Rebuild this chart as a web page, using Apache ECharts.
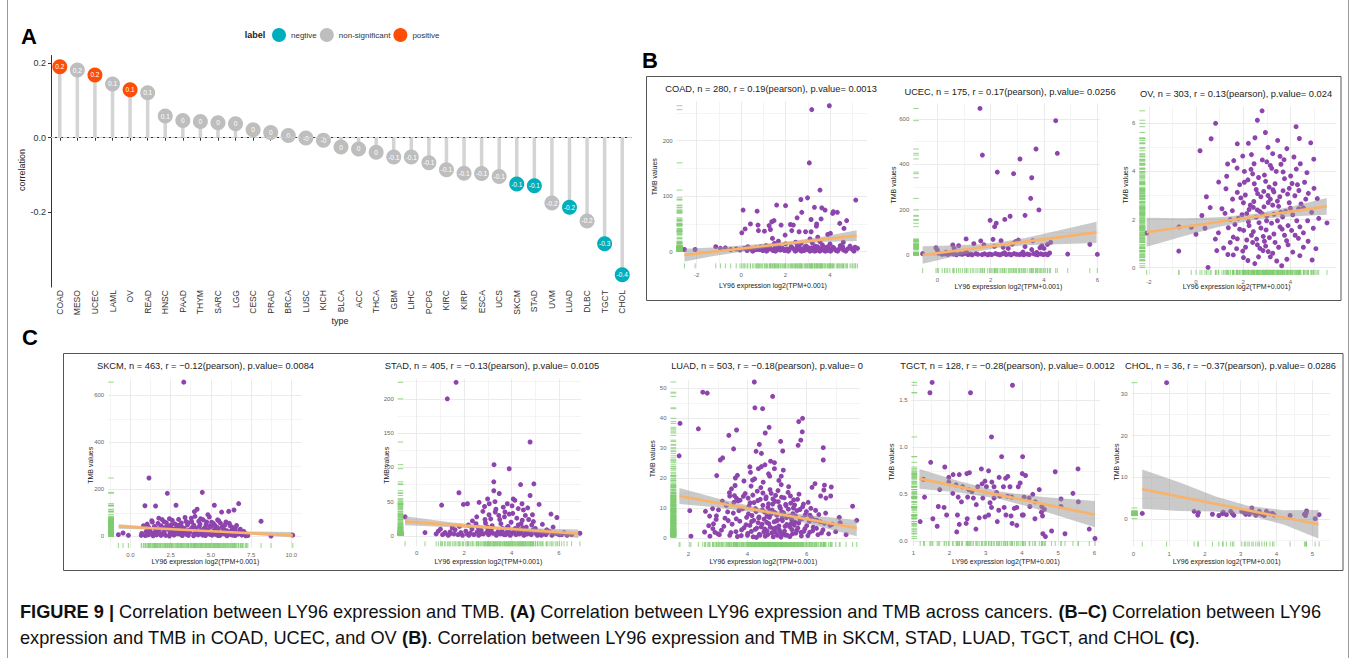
<!DOCTYPE html>
<html><head><meta charset="utf-8">
<script src="https://cdn.jsdelivr.net/npm/echarts@6/dist/echarts.min.js"></script>
<style>html,body{margin:0;padding:0;background:#fff}#c{width:1356px;height:658px}</style>
</head><body><div id="c"></div>
<script>
// ---------- Panel A data ----------
const aTypes = ['COAD','MESO','UCEC','LAML','OV','READ','HNSC','PAAD','THYM','SARC','LGG','CESC','PRAD','BRCA','LUSC','KICH','BLCA','ACC','THCA','GBM','LIHC','PCPG','KIRC','KIRP','ESCA','UCS','SKCM','STAD','UVM','LUAD','DLBC','TGCT','CHOL'];
const aCorr = [0.19,0.181,0.168,0.144,0.128,0.12,0.058,0.046,0.043,0.04,0.037,0.021,0.014,0.006,-0.001,-0.007,-0.025,-0.03,-0.039,-0.052,-0.052,-0.067,-0.086,-0.095,-0.096,-0.104,-0.124,-0.129,-0.175,-0.186,-0.223,-0.284,-0.367];
const aLabel = ['0.2','0.2','0.2','0.1','0.1','0.1','0.1','0','0','0','0','0','0','0','-0','-0','0','0','0','-0.1','-0.1','-0.1','-0.1','-0.1','-0.1','-0.1','-0.1','-0.1','-0.2','-0.2','-0.2','-0.3','-0.4'];
const aGroup = ['positive','non-significant','positive','non-significant','positive','non-significant','non-significant','non-significant','non-significant','non-significant','non-significant','non-significant','non-significant','non-significant','non-significant','non-significant','non-significant','non-significant','non-significant','non-significant','non-significant','non-significant','non-significant','non-significant','non-significant','non-significant','negtive','negtive','non-significant','negtive','non-significant','negtive','negtive'];
const legendNames = ['negtive','non-significant','positive'];
const aYTicks = [-0.2, 0, 0.2];

// ---------- Scatter panel data ----------
const coadPts = [[3.18,256],[3.97,263],[3.07,160],[3.55,111],[2.99,97],[2.69,94],[3.3,80],[3.63,79],[3.78,75],[4.15,72],[0.09,75],[0.72,73],[1.6,84],[2.0,83],[2.73,71],[4.12,69],[4.33,71],[1.48,56],[1.38,54],[0.42,50],[0.18,41],[0.03,34],[0.76,48],[0.78,38],[1.05,37],[1.26,47],[1.32,40],[1.8,48],[2.22,49],[2.28,38],[2.52,61],[2.61,36],[2.9,36],[3.15,36],[3.15,58],[3.39,46],[3.6,59],[3.4,50],[4.02,33],[4.44,51],[4.75,56],[4.63,42],[5.16,93],[1.41,24],[1.68,19],[3.1,23],[1.98,30],[2.35,48],[3.45,26],[3.9,31],
[-2.55,4],[-2.07,4],[-1.14,9],[-0.93,6],[-0.71,7],[-0.47,4],[-0.22,5],[-0.05,3],[0.14,6],[0.27,2],[0.41,5],[0.58,3],[0.66,7],[0.83,4],[0.97,2],[1.08,6],[1.19,3],[1.33,5],[1.44,2],[1.52,7],[1.63,4],[1.77,3],[1.86,6],[1.95,2],[2.07,5],[2.16,3],[2.31,7],[2.4,4],[2.48,2],[2.57,6],[2.66,3],[2.78,5],[2.84,2],[2.97,4],[3.05,7],[3.22,3],[3.28,5],[3.37,2],[3.49,6],[3.58,4],[3.69,3],[3.74,8],[3.86,2],[3.95,5],[4.07,3],[4.19,6],[4.28,2],[4.39,4],[4.52,7],[4.61,3],[4.79,5],[4.9,10],[5.02,4],[5.13,8],[5.24,6],[1.12,11],[2.53,10],[3.66,12],[0.88,9],[4.46,11],[1.71,8],[2.88,9],[3.33,10],
[0.3,9],[0.52,1],[0.7,4],[0.93,8],[1.14,1],[1.28,9],[1.55,1],[1.66,10],[1.9,5],[2.12,1],[2.25,9],[2.44,1],[2.62,8],[2.72,1],[2.93,10],[3.1,1],[3.18,7],[3.31,1],[3.44,9],[3.54,1],[3.63,6],[3.79,1],[3.91,9],[4.02,1],[4.13,8],[4.34,1],[4.57,9],[4.71,1],[4.95,6],[5.08,1],[2.0,14],[2.7,15],[3.2,16],[4.0,14],[1.5,15],[3.55,18],[4.6,17],[2.45,17]];
const coadLine = [[-2.55,-6],[5.2,29]];
const coadBand = [[-2.55,-17.5,5.5],[-1.3,-8.4,7.6],[0,-0.3,11.3],[1,5.8,14.2],[2.3,12.7,19.1],[3.6,17.3,26.3],[5.2,19.5,38.5]];

const ucecPts = [[1.6,647],[4.44,593],[1.69,441],[4.5,449],[3.7,468],[3.1,424],[2.25,366],[2.86,359],[3.54,341],[3.5,250],[3.81,199],[3.29,175],[2.73,171],[2.53,157],[1.98,153],[2.21,140],[2.15,125],[1.08,71],[1.37,50],[1.63,62],[2.09,69],[2.39,63],[3.04,66],[2.93,59],[3.58,63],[4.25,56],[4.13,47],[0.58,44],[0.8,41],[0.63,29],[-0.05,32],[0,22],[-0.55,6],[4.89,4],[5.72,47],[6.0,3],[2.14,38],[2.47,34],[2.66,29],[3.29,37],[3.54,24],[3.85,32],[4.0,29],[1.75,45],[2.81,48],[3.92,41],
[0.05,8],[0.18,3],[0.27,5],[0.39,2],[0.47,6],[0.61,4],[0.72,1],[0.86,5],[0.94,3],[1.03,7],[1.15,2],[1.24,4],[1.31,1],[1.45,6],[1.52,3],[1.68,2],[1.77,5],[1.89,1],[1.96,4],[2.04,2],[2.18,6],[2.27,3],[2.35,1],[2.44,5],[2.58,2],[2.69,4],[2.77,1],[2.88,6],[2.97,3],[3.08,2],[3.16,5],[3.24,1],[3.37,4],[3.45,2],[3.61,6],[3.68,3],[3.76,1],[3.88,5],[3.97,2],[4.06,4],[4.14,1],[4.21,9],[0.33,12],[1.1,11],[2.52,10],[3.21,13],[3.73,11]];
const ucecLine = [[-0.55,0],[5.97,100]];
const ucecBand = [[-0.55,-39,39],[0.5,-10,42],[1.5,16,46],[2.3,32,56],[3.3,43,75],[4.5,47.5,107.5],[5.97,53,147]];

const ovPts = [[2.8,6.52],[2.6,6.13],[0.83,6.0],[4.24,5.86],[0.64,5.36],[2.94,5.62],[4.38,5.37],[2.22,5.17],[3.46,5.29],[1.75,5.15],[4.86,5.19],[0.17,4.86],[3.25,4.74],[1.98,4.64],[3.56,4.63],[4.99,4.51],[2.46,4.32],[1.34,4.31],[4.42,4.32],[2.81,4.48],[3.0,4.4],[3.73,4.49],[1.74,4.14],[2.33,4.09],[3.21,4.13],[3.69,3.98],[4.01,3.81],[0.96,3.56],[2.95,3.59],[2.47,3.49],[3.35,3.49],[4.07,3.5],[1.27,3.28],[1.75,3.13],[2.09,3.02],[3.26,3.24],[3.69,3.2],[4.36,3.21],[4.76,3.09],[0.44,2.95],[2.61,3.08],[2.87,3.17],[3.88,3.06],[4.19,2.99],[2.01,2.7],[3.06,2.71],[3.45,2.77],[5.14,2.87],[1.54,2.37],[2.25,2.42],[2.43,2.51],[2.88,2.53],[2.71,2.33],[4.0,2.47],[4.55,2.49],[1.23,2.26],[3.3,2.22],[3.67,2.11],[0.25,2.17],[1.79,2.05],[2.22,1.91],[2.67,1.87],[2.99,1.95],[4.27,1.95],[4.73,1.95],[5.55,1.86],[-0.72,1.7],[-0.2,1.68],[0.38,1.64],[0.0,1.39],[1.37,1.66],[2.02,1.55],[2.43,1.5],[2.97,1.57],[3.56,1.7],[4.05,1.55],[4.97,1.64],[0.82,1.19],[1.58,1.27],[2.15,1.15],[2.57,1.19],[3.11,1.25],[3.84,1.12],[4.34,1.22],[1.17,0.82],[0.88,0.71],[1.72,0.79],[1.98,0.69],[2.71,0.8],[3.06,0.67],[4.55,0.85],[5.08,0.79],[-0.73,0.69],[1.58,0.53],[2.01,0.42],[2.49,0.17],[3.42,0.28],[3.63,0.08],[4.92,0.32],[0.51,0.01],[-2.09,1.44],[2.84,0.71],
[1.9,2.9],[2.3,2.6],[2.75,2.95],[3.15,2.85],[3.5,2.55],[3.8,2.35],[4.1,2.2],[2.15,2.25],[2.55,2.1],[3.2,1.85],[3.65,1.6],[4.4,1.7],[1.65,1.8],[2.35,1.35],[2.85,1.3],[3.35,1.05],[3.9,0.95],[4.2,1.35],[1.45,1.05],[2.6,0.95],[3.15,0.45],[2.2,0.3],[1.85,3.45],[2.65,3.75],[3.1,3.35],[3.95,3.3],[4.6,3.55],[2.4,3.9],[3.4,4.0],[4.25,4.1],
[1.6,4.45],[2.05,4.0],[2.5,5.4],[3.05,5.0],[3.6,4.3],[4.15,4.6],[4.7,3.95],[1.3,3.8],[2.2,3.65],[2.9,3.85],[3.3,3.15],[3.75,3.7],[4.3,3.45],[5.0,3.3],[1.55,2.85],[2.45,2.75],[2.8,2.25],[3.25,2.6],[3.55,2.95],[3.95,2.7],[4.45,2.65],[4.9,2.3],[1.1,2.45],[1.95,2.2],[2.6,2.4],[3.0,2.15],[3.45,1.95],[3.9,1.75],[4.35,2.45],[5.2,2.05],[0.6,2.5],[1.85,1.6],[2.25,1.75],[2.75,1.65],[3.3,1.4],[3.75,1.35],[4.55,1.45],[0.95,1.45],[1.75,1.2],[2.4,1.05],[2.95,0.9],[3.5,0.85],[4.1,0.65],[4.75,1.1],[1.35,0.55],[2.1,0.85],[2.65,0.45],[3.25,0.6],[3.85,0.35],[4.4,0.5],[2.55,3.25],[3.15,4.25],[2.05,3.55],[3.85,4.95],[1.45,2.0],[2.9,1.1],[3.6,2.3],[4.65,2.85],[2.35,4.7],[3.05,3.0]];
const ovLine = [[-2.09,1.47],[5.54,2.55]];
const ovBand = [[-2.09,0.87,2.08],[-0.5,1.32,2.06],[1,1.7,2.1],[2.6,2.01,2.25],[4,2.13,2.53],[5.54,2.2,2.9]];

const skcmPts = [[3.32,656],[1.16,248],[2.3,183],[4.47,187],[0.91,130],[1.57,129],[2.84,132],[5.22,132],[6.73,139],[4.15,115],[3.98,105],[4.82,92],[5.67,103],[6.11,106],[6.44,112],[8.12,64],[8.74,1],[10.09,5],[-0.74,7],[-0.45,14],[-0.12,4],[0.68,4],[1.37,61],[1.77,77],[2.1,62],[2.43,75],[2.95,47],[3.46,63],[3.79,77],[4.37,75],[4.74,61],[5.16,55],[5.49,66],[5.94,61],[6.21,44],[6.52,32],[1.14,39],[1.66,32],[2.59,32],[3.21,39],[3.94,47],[4.66,39],[5.28,32],[5.82,28],[6.94,14],[7.19,10],
[0.71,12],[0.93,3],[0.98,20],[1.17,8],[1.21,28],[1.42,2],[1.46,15],[1.63,6],[1.68,24],[1.87,11],[1.91,4],[2.09,18],[2.13,9],[2.31,30],[2.43,1],[2.47,14],[2.66,22],[2.71,5],[2.9,17],[2.94,10],[3.12,26],[3.23,3],[3.28,13],[3.47,21],[3.52,7],[3.69,16],[3.74,29],[3.93,2],[3.97,11],[4.16,19],[4.21,6],[4.38,25],[4.44,9],[4.62,15],[4.67,3],[4.85,22],[4.89,12],[5.08,5],[5.13,18],[5.31,8],[5.36,27],[5.54,14],[5.58,4],[5.77,20],[5.82,10],[6.01,2],[6.05,16],[6.24,7],[6.27,23],[6.46,12],[6.51,3],[6.69,9],[6.73,18],[6.93,5],[6.98,11],[7.17,2],[7.23,7],[3.04,45],[4.33,52],[5.71,41],[2.19,38],[1.56,33],[6.39,28],[2.55,49],[4.05,36],[4.95,44],[3.6,58],[5.4,38],[1.9,45],
[0.82,45],[1.05,52],[1.25,18],[1.33,66],[1.5,42],[1.72,55],[1.81,29],[1.98,71],[2.02,36],[2.24,58],[2.37,44],[2.52,26],[2.61,68],[2.77,53],[2.84,35],[3.0,72],[3.08,21],[3.17,57],[3.35,34],[3.4,80],[3.55,48],[3.62,25],[3.81,62],[3.86,38],[4.02,85],[4.08,29],[4.25,64],[4.29,42],[4.41,20],[4.53,70],[4.57,33],[4.71,50],[4.79,27],[4.91,82],[4.99,40],[5.05,60],[5.19,24],[5.25,47],[5.42,70],[5.47,31],[5.6,56],[5.75,36],[5.88,48],[6.0,24],[6.15,55],[6.33,38],[6.48,20],[6.6,46],[6.83,30],[7.05,21],[1.1,6],[1.52,9],[2.2,4],[2.56,12],[3.15,7],[3.61,4],[4.1,13],[4.5,5],[4.95,8],[5.45,3],[5.9,9],[6.35,5],[6.85,14],[7.3,3]];
const skcmLine = [[-0.72,42],[10.09,4]];
const skcmBand = [[-0.72,32,51],[2,27.5,37.5],[4.2,21.2,28.2],[7,8.8,20.8],[10.09,-4,18]];

const stadPts = [[1.66,224],[1.29,200],[4.78,137],[3.26,104],[3.9,98],[4.38,75],[4.94,76],[3.25,79],[1.78,63],[3.25,66],[3.48,62],[4.78,59],[1.05,45],[1.97,46],[2.14,47],[5.16,46],[2.63,49],[2.99,54],[3.06,47],[3.82,47],[4.07,54],[4.14,52],[4.44,47],[3.34,39],[3.65,42],[4.28,40],[4.68,41],[2.79,36],[2.53,28],[3.05,31],[3.46,30],[3.9,32],[4.58,30],[5.66,32],[5.91,27],[-0.49,28],[0.35,5],[1.2,5],[2.18,16],[2.35,22],[3.98,20],[4.28,16],[4.45,23],[4.85,16],[5.48,9],[6.11,2],[6.88,4],[6.53,2],[3.12,25],[3.72,35],[4.02,44],[2.9,19],[3.55,18],[4.92,21],[3.3,50],[2.86,43],
[0.82,3],[0.91,7],[1.09,2],[1.18,4],[1.33,1],[1.41,6],[1.57,3],[1.62,9],[1.74,2],[1.86,5],[1.93,1],[2.07,7],[2.12,3],[2.26,4],[2.33,10],[2.41,2],[2.55,6],[2.61,1],[2.72,8],[2.81,3],[2.95,5],[3.03,2],[3.14,9],[3.21,4],[3.36,1],[3.42,6],[3.53,3],[3.61,11],[3.69,2],[3.78,5],[3.87,8],[3.94,1],[4.03,4],[4.11,7],[4.19,2],[4.26,10],[4.34,3],[4.41,5],[4.52,1],[4.59,8],[4.66,3],[4.74,6],[4.83,2],[4.91,9],[5.02,4],[5.09,1],[5.21,6],[5.33,3],[5.45,2],[5.58,7],[5.7,1],[5.84,4],[6.02,2],[6.21,5],[6.34,1],[1.5,12],[2.98,13],[3.85,14],[4.47,12],
[1.0,10],[1.4,3],[1.8,14],[2.2,1],[2.5,18],[2.7,3],[2.88,24],[3.0,8],[3.18,15],[3.31,35],[3.4,4],[3.5,24],[3.6,7],[3.7,28],[3.8,12],[3.96,4],[4.05,33],[4.15,11],[4.22,26],[4.32,6],[4.4,18],[4.5,38],[4.62,13],[4.72,24],[4.8,5],[4.88,31],[5.0,11],[5.1,3],[5.3,17],[5.5,5],[5.75,13],[5.95,3],[2.6,12],[3.1,5],[3.75,2],[4.55,2],[5.25,1]];
const stadLine = [[-0.49,21],[6.81,3.4]];
const stadBand = [[-0.49,15.5,28.7],[1.5,12.7,19.7],[3.5,9.2,13.6],[5.2,3.8,10.8],[6.81,-2.8,9.6]];

const luadPts = [[4.23,52],[2.49,48.6],[2.64,48.3],[4.85,47.2],[4.25,43.4],[4.51,43.1],[5.73,38.8],[5.86,39.9],[1.72,38.2],[5.85,35.4],[2.34,36.4],[3.63,36],[4.73,36.9],[4.6,35],[3.37,34.2],[5.8,32.6],[5.12,32.2],[4.4,31.2],[6.56,30.1],[3.53,29.7],[4.29,28.9],[4.47,28.2],[5.19,29],[5.71,30.9],[1.69,27.4],[3.16,26.7],[3.08,26],[6.56,26],[4.78,25.6],[4.59,24.4],[4.08,23.7],[4.91,23.1],[4.37,23.1],[2.96,20.8],[3.66,20.9],[3.59,20],[4.17,19.3],[4.75,20.6],[5.14,20.6],[6.28,18.1],[6.18,16.9],[6.6,17.6],[6.83,17],[6.58,16],[6.47,14],[6.65,13.3],[6.81,14],[3.39,15.1],[3.4,14],[3.54,11.9],[3.63,13.2],[3.75,12.6],[3.3,11.1],[2.82,9.8],[2.05,9.1],[2.58,8.9],[2.72,7.3],[2.94,6.2],[2.69,4.1],[2.83,3.1],[2.55,2],[3.0,1.4],[2.09,0.6],[2.73,0.6],[7.55,10.6],[7.69,5.9],[7.13,5.1],[6.79,4.2],[7.33,1.1],[6.34,5.9],[6.11,7.6],
[3.52,8.3],[3.61,2.1],[3.68,12.4],[3.74,5.6],[3.79,0.8],[3.83,9.7],[3.88,3.4],[3.92,14.8],[3.97,6.9],[4.01,1.5],[4.05,10.6],[4.08,4.2],[4.12,17.3],[4.15,7.5],[4.19,0.4],[4.22,11.8],[4.26,2.9],[4.29,8.8],[4.33,15.6],[4.36,5.1],[4.4,1.2],[4.43,12.9],[4.46,3.7],[4.5,9.4],[4.53,18.6],[4.56,6.3],[4.6,0.6],[4.63,13.7],[4.66,2.4],[4.69,10.2],[4.72,4.8],[4.76,16.1],[4.79,7.9],[4.82,1.7],[4.85,11.3],[4.88,3.1],[4.92,8.5],[4.95,14.2],[4.98,5.7],[5.01,0.9],[5.04,12.1],[5.08,2.6],[5.11,9.9],[5.14,17.8],[5.17,6.6],[5.2,1.3],[5.24,13.4],[5.27,3.9],[5.3,10.8],[5.33,4.5],[5.37,15.2],[5.4,7.2],[5.43,0.5],[5.46,11.6],[5.5,2.8],[5.53,8.1],[5.56,12.7],[5.6,5.3],[5.63,1.6],[5.67,9.1],[5.7,3.3],[5.74,14.6],[5.78,6.1],[5.82,0.7],[5.86,10.4],[5.9,2.2],[5.95,7.7],[6.0,4.1],[6.05,11.9],[6.1,1.9],[6.16,6.8],[6.22,3.6],[6.3,9.2],[6.38,1.1],[6.46,5.4],[6.55,2.7],[6.64,8.3],[6.74,1.4],[6.86,4.6],[6.98,2.1],[7.1,6.9],[3.2,3.9],[3.05,1.1],[2.95,7.4],[3.28,10.9],[3.4,0.9],[3.35,5.8],[3.15,12.3],[2.85,4.7],[3.46,16.4],[4.24,19.7],[4.71,21.4],[5.06,19.2],[4.47,23.8],[5.21,22.6],[4.91,25.1],[4.1,21.9],[5.39,17.1],[4.58,3.0],[4.94,1.9],[5.13,0.3],[4.38,6.7],[5.48,4.9],[4.76,9.0],[5.02,6.0],[4.3,0.2],[5.28,1.0],[4.66,7.3],[5.59,11.0],[4.14,5.5],[4.86,13.0],[5.16,8.7],[4.52,15.0],[3.58,17.5],[3.88,19.0],[4.02,13.3],
[3.62,6.4],[3.71,9.1],[3.8,2.7],[3.86,13.9],[3.95,4.4],[4.03,8.0],[4.09,11.7],[4.13,2.2],[4.18,14.3],[4.21,5.9],[4.27,9.8],[4.31,3.3],[4.35,12.5],[4.39,7.0],[4.42,0.9],[4.45,16.8],[4.49,4.6],[4.52,10.9],[4.55,2.0],[4.58,8.6],[4.62,13.1],[4.65,5.2],[4.68,1.1],[4.71,11.4],[4.74,6.9],[4.77,3.6],[4.8,14.9],[4.83,9.3],[4.87,0.4],[4.9,5.4],[4.93,12.2],[4.96,3.4],[4.99,7.6],[5.03,15.8],[5.06,4.0],[5.09,10.5],[5.12,1.8],[5.15,13.6],[5.18,5.8],[5.22,8.4],[5.25,2.3],[5.29,11.2],[5.32,6.8],[5.35,0.9],[5.38,9.6],[5.42,3.8],[5.45,14.0],[5.49,6.2],[5.52,1.4],[5.55,10.0],[5.58,4.3],[5.62,7.4],[5.66,2.5],[5.69,12.9],[5.73,5.0],[5.77,9.5],[5.81,1.9],[5.85,6.5],[5.89,11.3],[5.94,3.1],[5.99,8.8],[6.04,0.8],[6.09,5.6],[6.14,9.9],[6.2,2.4],[6.26,6.0],[6.33,3.2],[6.41,7.8],[6.5,1.7],[6.6,4.9],[3.48,4.6],[3.33,8.7],[3.56,14.1],[3.24,6.6],[3.12,2.6],[2.9,1.9],[3.02,9.4],[3.44,1.8],[3.66,0.5],[4.0,0.9]];
const luadLine = [[1.7,14],[7.69,3.3]];
const luadBand = [[1.7,11.3,16.7],[3,10.2,13.2],[4.6,8.0,9.6],[6,4.9,7.7],[7.69,0.6,6.0]];

const tgctPts = [[1.52,1.69],[1.46,1.58],[2.58,1.58],[3.74,1.66],[3.16,1.11],[1.48,0.84],[3.44,0.9],[4.02,0.9],[1.87,0.79],[2.55,0.73],[2.48,0.72],[2.88,0.77],[3.08,0.75],[4.01,0.72],[4.1,0.7],[4.92,0.74],[5.55,0.77],[2.1,0.71],[2.27,0.71],[1.98,0.68],[1.98,0.63],[3.37,0.68],[3.55,0.67],[3.61,0.69],[2.98,0.64],[2.9,0.61],[3.17,0.63],[2.18,0.6],[2.36,0.58],[2.78,0.58],[3.02,0.58],[3.23,0.58],[3.49,0.58],[3.67,0.58],[3.9,0.58],[4.48,0.55],[1.73,0.55],[1.28,0.66],[2.09,0.51],[2.53,0.55],[2.66,0.46],[2.92,0.46],[1.31,0.47],[2.24,0.47],[2.5,0.47],[3.23,0.46],[3.39,0.48],[3.6,0.48],[3.72,0.47],[4.06,0.47],[4.2,0.46],[4.37,0.42],[4.55,0.37],[4.62,0.34],[5.08,0.45],[5.41,0.51],[5.56,0.42],[5.08,0.37],[2.33,0.42],[1.85,0.36],[1.69,0.37],[2.74,0.39],[3.16,0.36],[3.51,0.36],[3.86,0.36],[4.22,0.37],[4.54,0.31],[4.57,0.27],[4.36,0.24],[4.01,0.28],[3.79,0.35],[3.36,0.33],[3.08,0.28],[2.98,0.26],[2.22,0.28],[1.92,0.28],[1.54,0.24],[2.49,0.24],[2.82,0.25],[3.32,0.21],[3.56,0.28],[3.73,0.19],[3.86,0.17],[4.04,0.28],[1.19,0.21],[1.66,0.16],[2.27,0.18],[2.46,0.19],[2.73,0.13],[2.2,0.1],[4.58,0.08],[4.65,0.05],[4.82,0.11],[5.19,0.08],[5.86,0.13],[6.02,0.03],[3.3,0.52],[3.95,0.62],[2.62,0.53],[4.3,0.5],[3.12,0.41],[3.7,0.27]];
const tgctLine = [[1.17,0.667],[6.02,0.283]];
const tgctBand = [[1.17,0.56,0.77],[2.3,0.517,0.637],[3.4,0.45,0.53],[4.5,0.333,0.473],[6.02,0.15,0.43]];

const cholPts = [[0.93,32.6],[0.25,1.4],[1.7,1.9],[1.8,1.0],[1.82,1.6],[2.21,1.2],[2.39,0.9],[2.49,1.35],[2.51,1.7],[2.72,1.9],[2.77,1.35],[2.81,0.95],[3.03,1.9],[3.14,1.2],[3.24,1.2],[3.31,2.7],[3.35,1.7],[3.42,0.95],[3.48,1.4],[3.52,1.9],[3.59,1.2],[3.66,0.9],[3.72,1.9],[3.82,1.3],[3.89,1.4],[3.93,1.0],[4.38,0.9],[4.81,0.9],[4.83,1.5],[4.84,2.0],[5.08,0.15],[5.19,1.1],[3.2,1.5],[2.6,1.1],[4.78,1.2],[3.1,1.6]];
const cholLine = [[0.25,7.15],[5.17,-1.2]];
const cholBand = [[0.25,2.5,11.9],[1.3,1.97,8.77],[2.3,1.87,5.47],[3.2,1.04,3.24],[4.2,-1.25,2.15],[5.17,-4.6,2.2]];

const panelTitles = {
  COAD:'COAD, n = 280, r = 0.19(pearson), p.value= 0.0013',
  UCEC:'UCEC, n = 175, r = 0.17(pearson), p.value= 0.0256',
  OV:'OV, n = 303, r = 0.13(pearson), p.value= 0.024',
  SKCM:'SKCM, n = 463, r = \u22120.12(pearson), p.value= 0.0084',
  STAD:'STAD, n = 405, r = \u22120.13(pearson), p.value= 0.0105',
  LUAD:'LUAD, n = 503, r = \u22120.18(pearson), p.value= 0',
  TGCT:'TGCT, n = 128, r = \u22120.28(pearson), p.value= 0.0012',
  CHOL:'CHOL, n = 36, r = \u22120.37(pearson), p.value= 0.0286'
};
const xName = 'LY96 expression log2(TPM+0.001)';
const yName = 'TMB values';
const captionLine1 = '{b|FIGURE 9 |} Correlation between LY96 expression and TMB. {b|(A)} Correlation between LY96 expression and TMB across cancers. {b|(B\u2013C)} Correlation between LY96';
const captionLine2 = 'expression and TMB in COAD, UCEC, and OV {b|(B)}. Correlation between LY96 expression and TMB in SKCM, STAD, LUAD, TGCT, and CHOL {b|(C)}.';

// ---------- layout (pixel geometry of each small panel) ----------
const panels = [
 {id:'COAD', pts:coadPts, line:coadLine, band:coadBand, px:{x0:741.1,xs:22.22,y0:251.7,ys:0.555,l:677,r:867,t:101,b:269.3}, xt:[2,1,0], yt:[100,50,0], tpos:[771,89], ypos:[654.3,176.7], xpos:[773,285.7]},
 {id:'UCEC', pts:ucecPts, line:ucecLine, band:ucecBand, px:{x0:937.3,xs:26.67,y0:255,ys:0.2265,l:914,r:1100,t:103.3,b:272.3}, xt:[2,1,0], yt:[200,100,0], tpos:[1010,91.5], ypos:[893.3,185], xpos:[1008.3,286]},
 {id:'OV', pts:ovPts, line:ovLine, band:ovBand, px:{x0:1196,xs:23.6,y0:267.7,ys:24.06,l:1139.3,r:1336,t:106.7,b:274.3}, xt:[2,1,0], yt:[2,1,0], tpos:[1236,94], ypos:[1125,185], xpos:[1236.7,286]},
 {id:'SKCM', pts:skcmPts, line:skcmLine, band:skcmBand, px:{x0:130.3,xs:16.1,y0:536.3,ys:0.235,l:108.7,r:301.3,t:379.3,b:547}, xt:[2.5,1.25,1], yt:[200,100,0], tpos:[205.5,366], ypos:[90.3,465.3], xpos:[205.3,561.3]},
 {id:'STAD', pts:stadPts, line:stadLine, band:stadBand, px:{x0:416.7,xs:23.72,y0:536,ys:0.686,l:398.3,r:581,t:378.7,b:547}, xt:[2,1,0], yt:[50,25,0], tpos:[492,366], ypos:[386.7,465.3], xpos:[488.3,561.3]},
 {id:'LUAD', pts:luadPts, line:luadLine, band:luadBand, px:{x0:629.1,xs:29.6,y0:538,ys:3.0,l:670.7,r:860,t:380.3,b:547}, xt:[2,1,0], yt:[10,5,0], tpos:[767,366], ypos:[652.7,458.7], xpos:[763.3,561.3]},
 {id:'TGCT', pts:tgctPts, line:tgctLine, band:tgctBand, px:{x0:877.1,xs:36.2,y0:541.3,ys:94,l:911,r:1100,t:380.3,b:547}, xt:[1,0.5,0], yt:[0.5,0.25,1], tpos:[1007.5,366], ypos:[891,462], xpos:[1006,561.3]},
 {id:'CHOL', pts:cholPts, line:cholLine, band:cholBand, px:{x0:1133.3,xs:35.8,y0:519.3,ys:4.19,l:1132,r:1330,t:380.3,b:547}, xt:[1,0.5,0], yt:[10,5,0], tpos:[1230.5,366], ypos:[1116.7,462], xpos:[1226.7,561.3]}
];

const FONT = '"Liberation Sans", Arial, sans-serif';
const PURPLE = '#8E44AD', ORANGE = '#F8B26A', GREEN = '#7FCC70';
const MAJ = '#e6e6e6', MINC = '#f1f1f1', NONE = 'rgba(0,0,0,0)';
const groupColors = {'negtive':'#00AFBB','non-significant':'#BEBEBE','positive':'#FC4E07'};

function near(v, m){ const q = v/m; return Math.abs(q - Math.round(q)) < 1e-6; }
function roundTo(v, s){ return +(Math.round(v/s)*s).toFixed(6); }
function tickColors(mn, mx, step, maj, minr){
  const out = [];
  for (let i = 0; i < 5000; i++){ const v = +(mn + i*step).toFixed(8); if (v > mx + 1e-9) break; out.push(v); }
  if (out[out.length-1] < mx - 1e-9) out.push(mx);
  return out.map(v => near(v, maj) ? MAJ : (near(v, minr) ? MINC : NONE));
}
function labelFor(v, maj, dec){
  if (!near(v, maj)) return '';
  let vv = Math.round(v/maj)*maj; if (Math.abs(vv) < 1e-9) vv = 0;
  return vv.toFixed(dec);
}
function valueAxis(gi, mn, mx, step, maj, minr, dec){
  return {gridIndex:gi, type:'value', min:mn, max:mx, interval:step,
    axisLine:{show:false}, axisTick:{show:false}, minorTick:{show:false}, minorSplitLine:{show:false},
    axisLabel:{show:true, fontSize:6, color:'#666', fontFamily:FONT, margin:4, formatter:v => labelFor(v, maj, dec)},
    splitLine:{show:true, showMinLine:true, showMaxLine:true, lineStyle:{color:tickColors(mn, mx, step, maj, minr), width:0.8}},
    splitArea:{show:false}};
}

const grids = [], xAxes = [], yAxes = [], series = [], graphics = [];

// ---------- Panel A ----------
grids.push({left:51, top:55.5, width:580, height:231.6});
xAxes.push({gridIndex:0, type:'category', data:aTypes, boundaryGap:true,
  axisLine:{show:true, lineStyle:{color:'#333', width:1}},
  axisTick:{show:true, length:3, alignWithLabel:true, interval:0, lineStyle:{color:'#333'}},
  axisLabel:{rotate:90, fontSize:8.5, color:'#333', margin:3, interval:0, fontFamily:FONT},
  splitLine:{show:false}});
yAxes.push({gridIndex:0, type:'value', min:-0.4, max:0.22, interval:0.2,
  axisLine:{show:true, lineStyle:{color:'#333', width:1}},
  axisTick:{show:true, length:3, lineStyle:{color:'#333'}, customValues:aYTicks},
  axisLabel:{fontSize:9, color:'#333', margin:5, fontFamily:FONT, customValues:aYTicks,
    formatter:v => (near(v,0.2) && v > -0.39 && v < 0.21) ? (Math.abs(v)<1e-9 ? 0 : v).toFixed(1) : ''},
  splitLine:{show:false}});
series.push({type:'bar', xAxisIndex:0, yAxisIndex:0, data:aCorr, barWidth:3.5, silent:true, z:1,
  itemStyle:{color:'#d4d4d4'},
  markLine:{silent:true, symbol:'none', label:{show:false}, lineStyle:{type:'dashed', color:'#d0d0d0', width:1}, data:[{yAxis:0}]}});
legendNames.forEach(g => {
  series.push({type:'scatter', name:g, xAxisIndex:0, yAxisIndex:0, symbol:'circle', symbolSize:15, z:3,
    itemStyle:{color:groupColors[g], opacity:1},
    data: aTypes.map((t,i) => aGroup[i] === g ? [i, aCorr[i]] : null).filter(Boolean),
    label:{show:true, position:'inside', fontSize:6.5, color:'#fff', fontFamily:FONT, formatter:p => aLabel[p.data[0]]}});
});

// ---------- scatter panels ----------
panels.forEach((P, k) => {
  const gi = k + 1;
  const {x0,xs,y0,ys,l,r,t,b} = P.px;
  const [xMaj, xMin, xDec] = P.xt, [yMaj, yMin, yDec] = P.yt;
  const xstep = xMin/10, ystep = yMin/10;
  const xmn = roundTo((l - x0)/xs, xstep), xmx = +((r - x0)/xs).toFixed(6);
  const ymn = roundTo((y0 - b)/ys, ystep), ymx = +((y0 - t)/ys).toFixed(6);
  const left = x0 + xmn*xs, bottom = y0 - ymn*ys;
  grids.push({left:left, top:t, width:r - left, height:bottom - t});
  xAxes.push(valueAxis(gi, xmn, xmx, xstep, xMaj, xMin, xDec));
  yAxes.push(valueAxis(gi, ymn, ymx, ystep, yMaj, yMin, yDec));
  series.push({type:'scatter', xAxisIndex:gi, yAxisIndex:gi, data:P.pts, symbolSize:5, silent:true, z:2,
    itemStyle:{color:PURPLE, opacity:1}});
  series.push({type:'custom', xAxisIndex:gi, yAxisIndex:gi, silent:true, z:3, data:[[P.band[0][0], P.band[0][1]]],
    renderItem:(params, api) => {
      const up = P.band.map(q => api.coord([q[0], q[2]]));
      const lo = P.band.slice().reverse().map(q => api.coord([q[0], q[1]]));
      return {type:'polygon', shape:{points:up.concat(lo)}, style:{fill:'rgba(150,150,150,0.5)', stroke:null}};
    }});
  series.push({type:'line', xAxisIndex:gi, yAxisIndex:gi, data:P.line, showSymbol:false, symbol:'none', silent:true, z:5,
    lineStyle:{color:ORANGE, width:2.6}});
  series.push({type:'custom', xAxisIndex:gi, yAxisIndex:gi, silent:true, z:4, data:P.pts,
    renderItem:(params, api) => {
      const cs = params.coordSys;
      const p = api.coord([api.value(0), api.value(1)]);
      const lx = 0.03*cs.width, ly = 0.03*cs.height;
      return {type:'group', children:[
        {type:'line', shape:{x1:cs.x, y1:p[1], x2:cs.x + lx, y2:p[1]}, style:{stroke:GREEN, lineWidth:0.8}},
        {type:'line', shape:{x1:p[0], y1:cs.y + cs.height - ly, x2:p[0], y2:cs.y + cs.height}, style:{stroke:GREEN, lineWidth:0.8}}
      ]};
    }});
  graphics.push(txt(P.tpos[0], P.tpos[1], panelTitles[P.id], 9.3, '#222', 'normal', 0));
  graphics.push(txt(P.ypos[0], P.ypos[1], yName, 7, '#222', 'normal', Math.PI/2));
  graphics.push(txt(P.xpos[0], P.xpos[1], xName, 7, '#222', 'normal', 0));
});

function txt(x, y, s, size, color, weight, rot, align){
  return {type:'text', x:x, y:y, rotation:rot || 0, silent:true, z:100,
    style:{text:s, fontSize:size, fontFamily:FONT, fontWeight:weight, fill:color,
      textAlign:align || 'center', textVerticalAlign:'middle', align:align || 'center', verticalAlign:'middle'}};
}

// letters, boxes, axis names of panel A, legend title
graphics.push(txt(29, 36, 'A', 22, '#000', 'bold', 0));
graphics.push(txt(650, 60, 'B', 22, '#000', 'bold', 0));
graphics.push(txt(30, 337, 'C', 22, '#000', 'bold', 0));
graphics.push(txt(22.4, 170, 'correlation', 9, '#222', 'normal', Math.PI/2));
graphics.push(txt(340, 321, 'type', 9, '#222', 'normal', 0));
graphics.push(txt(255, 35, 'label', 9, '#222', 'bold', 0));
graphics.push({type:'rect', silent:true, z:0, shape:{x:646.5, y:76.5, width:694.5, height:224}, style:{fill:null, stroke:'#555', lineWidth:1}});
graphics.push({type:'rect', silent:true, z:0, shape:{x:63.5, y:353.5, width:1279.5, height:217}, style:{fill:null, stroke:'#555', lineWidth:1}});
graphics.push({type:'line', silent:true, shape:{x1:7.5, y1:0, x2:7.5, y2:658}, style:{stroke:'#999', lineWidth:1}});
graphics.push({type:'line', silent:true, shape:{x1:1348.5, y1:0, x2:1348.5, y2:658}, style:{stroke:'#999', lineWidth:1}});
const capRich = {b:{fontWeight:'bold', fontSize:18.2, fontFamily:FONT, fill:'#111'}};
graphics.push({type:'text', x:20, y:612, silent:true, style:{text:captionLine1, rich:capRich, fontSize:18.2, fontFamily:FONT, fill:'#111', textVerticalAlign:'middle', verticalAlign:'middle'}});
graphics.push({type:'text', x:20, y:638, silent:true, style:{text:captionLine2, rich:capRich, fontSize:18.2, fontFamily:FONT, fill:'#111', textVerticalAlign:'middle', verticalAlign:'middle'}});

const chart = echarts.init(document.getElementById('c'), null, {renderer:'svg', width:1356, height:658});
chart.setOption({
  animation:false,
  backgroundColor:'#fff',
  textStyle:{fontFamily:FONT},
  grid:grids, xAxis:xAxes, yAxis:yAxes, series:series,
  legend:{data:legendNames, left:272, top:28, icon:'circle', itemWidth:14, itemHeight:14, itemGap:3, padding:0,
    selectedMode:false, textStyle:{fontSize:8, color:'#333', fontFamily:FONT}},
  graphic:{elements:graphics}
});
</script></body></html>
